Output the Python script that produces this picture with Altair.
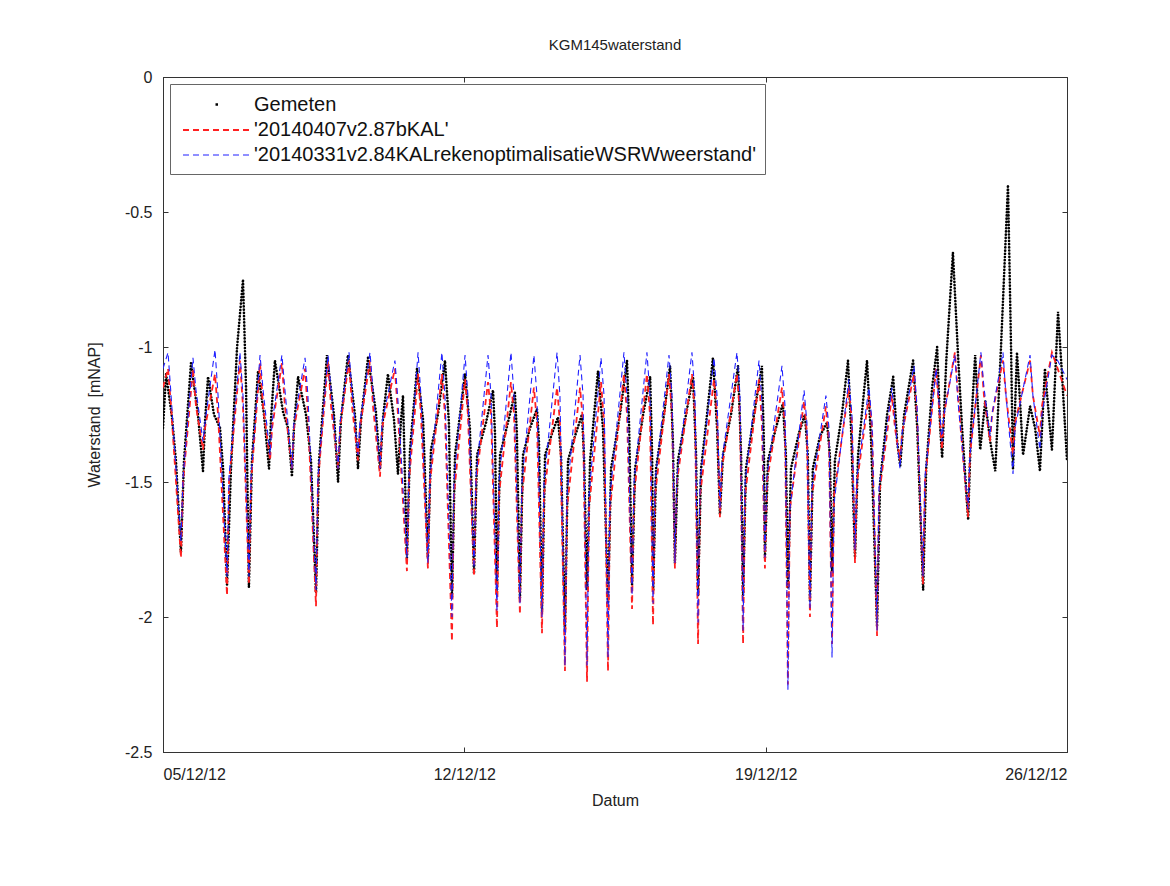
import altair as alt
import pandas as pd

# ---------------- data ----------------
# hours since 05/12/2012 00:00
meas_h = [0.0, 1.7, 5.0, 7.2, 10.0, 11.7, 15.6, 19.5, 22.3, 23.4,
          25.1, 28.4, 31.8, 33.5, 35.7, 37.9, 41.3, 44.6, 46.3, 47.9,
          49.6, 53.0, 56.3, 59.1, 60.2, 62.4, 66.9, 69.7, 71.9, 73.0,
          75.3, 79.7, 82.5, 85.3, 87.0, 91.4, 95.3, 97.6, 99.2, 103.1,
          107.0, 108.7, 110.4, 114.3, 118.7, 121.0, 122.7, 125.4, 128.8, 131.0,
          132.7, 133.8, 136.0, 137.7, 141.6, 145.0, 147.7, 149.4, 153.3, 157.2,
          159.4, 161.1, 162.8, 168.4, 171.1, 173.4, 175.1, 180.1, 184.0, 185.1,
          186.2, 187.9, 192.3, 196.2, 197.3, 199.0, 200.7, 204.6, 208.5, 209.6,
          211.3, 213.0, 216.9, 220.2, 221.9, 224.1, 225.8, 229.7, 233.6, 234.7,
          236.4, 238.1, 242.5, 245.3, 248.1, 249.8, 254.8, 258.7, 259.9, 261.5,
          263.2, 267.7, 271.6, 272.7, 273.3, 274.9, 279.3, 282.7, 284.3, 285.4,
          287.1, 291.6, 295.5, 297.2, 298.3, 300.0, 303.3, 306.6, 308.9, 310.5,
          312.2, 316.7, 320.6, 322.3, 323.4, 325.0, 329.5, 333.9, 335.0, 335.6,
          337.3, 341.7, 345.6, 347.3, 348.4, 350.1, 354.5, 357.9, 359.5, 360.7,
          362.3, 366.3, 370.2, 371.8, 373.0, 374.6, 378.5, 381.9, 383.6, 385.8,
          387.5, 390.3, 392.5, 394.8, 398.1, 399.8, 403.7, 407.1, 409.3, 411.0,
          413.2, 418.2, 420.5, 423.8, 425.5, 428.8, 431.6, 433.3, 434.4, 436.7,
          440.4, 443.4, 445.5, 448.9, 450.5, 452.8, 455.6, 458.4, 461.2, 464.0,
          467.2, 471.1, 472.8, 473.9, 476.1, 477.8, 479.5, 483.4, 486.2, 488.9,
          491.7, 494.5, 495.6, 499.0, 501.2, 504.0]
meas_v = [-1.30, -1.10, -1.26, -1.42, -1.76, -1.42, -1.06, -1.25, -1.46, -1.28,
          -1.11, -1.25, -1.30, -1.45, -1.88, -1.45, -1.00, -0.75, -1.15, -1.89,
          -1.42, -1.09, -1.25, -1.45, -1.27, -1.05, -1.24, -1.30, -1.48, -1.30,
          -1.11, -1.25, -1.42, -1.91, -1.42, -1.03, -1.25, -1.50, -1.27, -1.03,
          -1.25, -1.45, -1.27, -1.04, -1.24, -1.45, -1.26, -1.10, -1.27, -1.47,
          -1.27, -1.18, -1.78, -1.38, -1.08, -1.27, -1.78, -1.38, -1.25, -1.05,
          -1.28, -1.93, -1.40, -1.10, -1.30, -1.84, -1.40, -1.28, -1.16, -1.32,
          -1.90, -1.40, -1.28, -1.17, -1.32, -1.93, -1.40, -1.30, -1.23, -1.35,
          -1.98, -1.40, -1.32, -1.26, -1.40, -2.05, -1.42, -1.33, -1.25, -1.40,
          -1.90, -1.42, -1.09, -1.30, -1.95, -1.45, -1.25, -1.05, -1.30, -1.88,
          -1.45, -1.25, -1.11, -1.40, -1.90, -1.45, -1.25, -1.07, -1.35, -1.80,
          -1.42, -1.25, -1.11, -1.40, -1.92, -1.45, -1.25, -1.04, -1.30, -1.62,
          -1.40, -1.25, -1.07, -1.40, -1.92, -1.45, -1.25, -1.07, -1.35, -1.78,
          -1.42, -1.30, -1.21, -1.40, -1.89, -1.45, -1.32, -1.25, -1.40, -1.94,
          -1.45, -1.33, -1.28, -1.40, -1.83, -1.42, -1.25, -1.05, -1.30, -1.78,
          -1.40, -1.20, -1.05, -1.35, -2.03, -1.50, -1.25, -1.11, -1.35, -1.44,
          -1.25, -1.05, -1.30, -1.90, -1.45, -1.15, -1.00, -1.30, -1.41, -1.05,
          -0.65, -1.05, -1.30, -1.64, -1.30, -1.03, -1.38, -1.20, -1.35, -1.46,
          -1.00, -0.40, -1.00, -1.45, -1.02, -1.20, -1.40, -1.22, -1.30, -1.46,
          -1.08, -1.30, -1.38, -0.87, -1.10, -1.42]

model_h = [0.0, 2.8, 4.5, 10.0, 11.2, 16.7, 18.4, 22.3, 23.4, 29.0,
           30.7, 35.7, 36.8, 42.9, 44.6, 47.9, 49.1, 54.1, 55.8, 59.7,
           60.8, 66.3, 68.0, 71.9, 73.0, 79.2, 80.8, 85.3, 86.4, 92.0,
           93.7, 97.6, 98.7, 103.7, 105.4, 108.7, 109.8, 115.4, 117.1, 121.0,
           122.1, 129.3, 131.0, 136.0, 137.1, 142.2, 143.8, 147.7, 148.9, 155.5,
           157.2, 161.1, 162.2, 168.4, 170.0, 173.4, 174.5, 181.2, 182.9, 186.2,
           187.3, 194.0, 195.7, 199.0, 200.1, 206.8, 208.5, 211.3, 212.4, 219.7,
           221.3, 224.1, 225.2, 232.5, 234.2, 236.4, 237.5, 244.2, 245.9, 248.1,
           249.2, 257.0, 258.7, 261.5, 262.6, 269.8, 271.5, 273.2, 274.3, 282.1,
           283.8, 285.4, 286.5, 294.9, 296.6, 298.3, 299.4, 307.2, 308.9, 310.5,
           311.6, 320.0, 321.7, 323.4, 324.5, 332.3, 333.9, 335.6, 336.7, 345.1,
           346.8, 348.4, 349.5, 357.4, 359.0, 360.7, 361.8, 369.6, 371.3, 373.0,
           374.1, 382.4, 384.1, 385.8, 386.9, 393.6, 395.3, 398.1, 399.2, 406.4,
           408.1, 410.9, 412.0, 418.7, 420.4, 423.7, 424.8, 431.0, 432.6, 434.3,
           435.4, 441.5, 443.2, 448.8, 449.9, 456.0, 457.7, 461.1, 462.2, 468.3,
           470.0, 473.9, 475.0, 483.4, 485.0, 488.9, 490.0, 495.6, 498.8, 504.0]
red_v = [-1.15, -1.08, -1.22, -1.78, -1.50, -1.08, -1.22, -1.38, -1.30, -1.10,
         -1.25, -1.92, -1.50, -1.05, -1.22, -1.88, -1.50, -1.06, -1.22, -1.42,
         -1.30, -1.06, -1.22, -1.45, -1.30, -1.08, -1.25, -1.96, -1.50, -1.05,
         -1.22, -1.45, -1.30, -1.05, -1.22, -1.42, -1.30, -1.05, -1.22, -1.48,
         -1.30, -1.08, -1.25, -1.83, -1.50, -1.10, -1.25, -1.82, -1.50, -1.10,
         -1.25, -2.09, -1.55, -1.12, -1.25, -1.85, -1.50, -1.13, -1.25, -2.04,
         -1.55, -1.13, -1.25, -1.99, -1.55, -1.15, -1.28, -2.06, -1.55, -1.15,
         -1.28, -2.20, -1.60, -1.15, -1.28, -2.24, -1.60, -1.13, -1.28, -2.20,
         -1.60, -1.10, -1.25, -1.97, -1.55, -1.10, -1.25, -2.03, -1.55, -1.10,
         -1.25, -1.82, -1.50, -1.10, -1.25, -2.10, -1.55, -1.12, -1.25, -1.63,
         -1.45, -1.10, -1.25, -2.10, -1.55, -1.12, -1.28, -1.82, -1.50, -1.15,
         -1.30, -2.25, -1.60, -1.20, -1.32, -2.00, -1.55, -1.22, -1.35, -2.10,
         -1.55, -1.15, -1.28, -1.80, -1.50, -1.18, -1.30, -2.07, -1.55, -1.18,
         -1.30, -1.42, -1.32, -1.10, -1.25, -1.88, -1.50, -1.08, -1.22, -1.38,
         -1.25, -1.02, -1.18, -1.63, -1.40, -1.03, -1.18, -1.35, -1.25, -1.05,
         -1.18, -1.40, -1.28, -1.05, -1.18, -1.33, -1.22, -1.02, -1.08, -1.18]
blue_v = [-1.08, -1.02, -1.18, -1.72, -1.48, -1.04, -1.16, -1.35, -1.28, -1.01,
          -1.18, -1.85, -1.48, -1.02, -1.18, -1.85, -1.48, -1.03, -1.16, -1.40,
          -1.28, -1.03, -1.16, -1.45, -1.28, -1.04, -1.18, -1.90, -1.48, -1.03,
          -1.16, -1.45, -1.28, -1.02, -1.16, -1.40, -1.28, -1.02, -1.16, -1.45,
          -1.28, -1.05, -1.20, -1.78, -1.48, -1.02, -1.18, -1.80, -1.48, -1.02,
          -1.18, -2.00, -1.50, -1.03, -1.18, -1.82, -1.48, -1.03, -1.18, -1.98,
          -1.50, -1.02, -1.18, -1.95, -1.50, -1.03, -1.18, -2.00, -1.50, -1.02,
          -1.18, -2.18, -1.55, -1.03, -1.18, -2.18, -1.55, -1.04, -1.18, -2.15,
          -1.55, -1.02, -1.18, -1.92, -1.50, -1.02, -1.18, -1.95, -1.50, -1.03,
          -1.18, -1.80, -1.48, -1.02, -1.18, -2.02, -1.50, -1.04, -1.18, -1.60,
          -1.42, -1.02, -1.18, -2.05, -1.50, -1.05, -1.20, -1.78, -1.48, -1.07,
          -1.22, -2.27, -1.60, -1.16, -1.28, -1.97, -1.52, -1.18, -1.30, -2.15,
          -1.58, -1.12, -1.25, -1.75, -1.48, -1.15, -1.28, -2.05, -1.52, -1.15,
          -1.28, -1.45, -1.32, -1.07, -1.22, -1.85, -1.48, -1.08, -1.20, -1.35,
          -1.25, -1.03, -1.20, -1.60, -1.40, -1.02, -1.15, -1.33, -1.25, -1.02,
          -1.18, -1.47, -1.30, -1.03, -1.18, -1.38, -1.25, -1.03, -1.05, -1.12]

series_names = ["Gemeten", "'20140407v2.87bKAL'",
                "'20140331v2.84KALrekenoptimalisatieWSRWweerstand'"]
series_colors = ["#000000", "#ff2020", "#2020ff"]
y_ticks = [0, -0.5, -1, -1.5, -2, -2.5]
x_tick_days = [5, 12, 19, 26]
title_text = "KGM145waterstand"

# ---------------- build tables ----------------
start = pd.Timestamp("2012-12-05")
meas = pd.DataFrame({"t": start + pd.to_timedelta(meas_h, unit="h"),
                     "v": meas_v, "s": series_names[0]})
red = pd.DataFrame({"t": start + pd.to_timedelta(model_h, unit="h"),
                    "v": red_v, "s": series_names[1]})
blue = pd.DataFrame({"t": start + pd.to_timedelta(model_h, unit="h"),
                     "v": blue_v, "s": series_names[2]})
models = pd.concat([red, blue], ignore_index=True)

FONT = "Liberation Sans"

x_scale = alt.Scale(domain=[alt.DateTime(year=2012, month=12, date=5),
                            alt.DateTime(year=2012, month=12, date=26)])
y_scale = alt.Scale(domain=[-2.5, 0], nice=False, zero=False)
x_vals = [alt.DateTime(year=2012, month=12, date=d) for d in x_tick_days]

# labelled axes (bottom / left)
x_main = alt.X("t:T", scale=x_scale,
               axis=alt.Axis(values=x_vals, format="%d/%m/%y", title="Datum",
                             tickSize=0, labelPadding=14, titlePadding=10))
y_main = alt.Y("v:Q", scale=y_scale,
               axis=alt.Axis(values=y_ticks, labelExpr="'' + datum.value",
                             tickSize=0, labelPadding=11,
                             title="Waterstand\u00a0 [mNAP]", titlePadding=22))


def tick_axis(orient, values, is_time):
    kw = dict(values=values, orient=orient, offset=-5, tickSize=5, labels=False,
              domain=False, title=None)
    return alt.Axis(**kw)


x_in_bottom = alt.X("t:T", scale=x_scale, axis=tick_axis("bottom", x_vals, True))
y_in_left = alt.Y("v:Q", scale=y_scale, axis=tick_axis("left", y_ticks, False))
x_in_top = alt.X("t:T", scale=x_scale, axis=tick_axis("top", x_vals, True))
y_in_right = alt.Y("v:Q", scale=y_scale, axis=tick_axis("right", y_ticks, False))

leg = alt.Legend(title=None, orient="none", legendX=7, legendY=7,
                 symbolType="M-3.5,0L3.5,0", symbolSize=400, symbolOffset=25,
                 symbolDashOffset=367.5,
                 labelFont=FONT, labelFontSize=20, labelColor="#111",
                 labelLimit=0, labelOffset=27, rowPadding=4, padding=9,
                 fillColor="white", strokeColor="#666")

color_enc = alt.Color("s:N", scale=alt.Scale(domain=series_names, range=series_colors),
                      legend=leg)
dash_enc = alt.StrokeDash("s:N", scale=alt.Scale(domain=series_names,
                                                 range=[[2.5, 400], [6, 4], [6, 4]]),
                          legend=leg)
width_enc = alt.StrokeWidth("s:N", scale=alt.Scale(domain=series_names,
                                                   range=[2.5, 1.1, 1.1]),
                            legend=leg)

meas_layer = alt.Chart(meas).mark_line(
    strokeDash=[0.1, 3.1], strokeCap="round", strokeWidth=2.6, clip=True
).encode(x=x_main, y=y_main, color=color_enc)

model_layer = alt.Chart(models).mark_line(clip=True).encode(
    x=x_in_bottom, y=y_in_left, color=color_enc, strokeDash=dash_enc,
    strokeWidth=width_enc, detail="s:N")

# invisible copy of the measured series that only carries the top/right tick axes
frame_layer = alt.Chart(meas).mark_line(opacity=0, clip=True).encode(
    x=x_in_top, y=y_in_right)

chart = alt.layer(meas_layer, model_layer, frame_layer).resolve_axis(
    x="independent", y="independent"
).properties(
    width=904, height=675,
    padding={"left": 155, "top": 69, "right": 95, "bottom": 120},
    autosize=alt.AutoSizeParams(type="none"),
    title=alt.TitleParams(title_text, font=FONT, fontSize=15, fontWeight="normal",
                          color="#222", offset=16, anchor="middle"),
    background="white",
).configure_view(stroke="#333", strokeWidth=1).configure_axis(
    domainColor="#333", tickColor="#333", labelColor="#222", titleColor="#222",
    labelFont=FONT, titleFont=FONT, labelFontSize=16, titleFontSize=16,
    titleFontWeight="normal", grid=False, domainWidth=1)

chart.save("out.html", embed_options={"renderer": "svg", "actions": False})
